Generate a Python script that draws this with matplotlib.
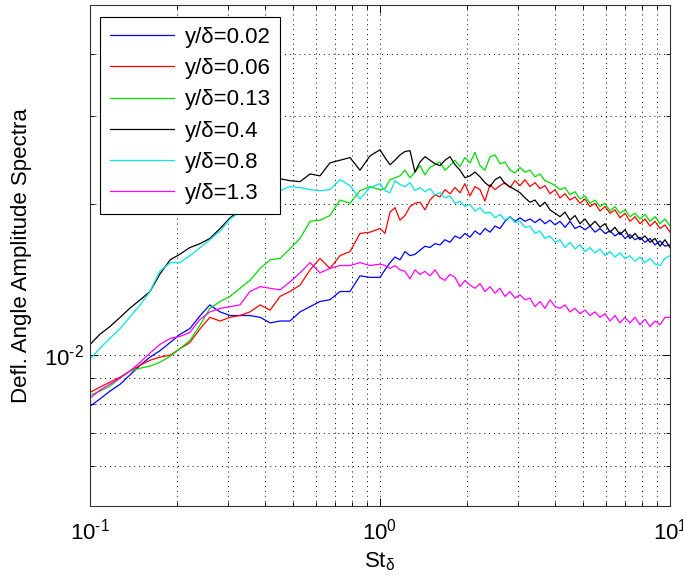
import numpy as np
import matplotlib
matplotlib.use('Agg')
import matplotlib.pyplot as plt
from matplotlib.ticker import LogLocator, NullFormatter, FuncFormatter

plt.rcParams.update({
    'font.family': ['Liberation Sans', 'DejaVu Sans'],
    'font.size': 16,
    'axes.unicode_minus': False,
    'mathtext.fontset': 'custom',
    'mathtext.rm': 'Liberation Sans',
    'mathtext.it': 'Liberation Sans:italic',
    'mathtext.bf': 'Liberation Sans:bold',
    'mathtext.default': 'regular',
})

# ── Strouhal number grid ─────────────────────────────────────────────────────
st = [0.100, 0.108, 0.117, 0.127, 0.137, 0.149, 0.161, 0.174, 0.189, 0.204,
      0.221, 0.240, 0.259, 0.281, 0.304, 0.329, 0.356, 0.386, 0.418, 0.452,
      0.489, 0.530, 0.574, 0.621, 0.672, 0.728, 0.788, 0.853, 0.924, 1.000,
      1.040, 1.083, 1.126, 1.172, 1.219, 1.269, 1.320, 1.374, 1.429, 1.487,
      1.548, 1.610, 1.675, 1.743, 1.814, 1.887, 1.963, 2.043, 2.126, 2.212,
      2.301, 2.395, 2.492, 2.593, 2.698, 2.807, 2.921, 3.039, 3.162, 3.290,
      3.423, 3.562, 3.706, 3.857, 4.013, 4.175, 4.344, 4.520, 4.703, 4.894,
      5.092, 5.298, 5.513, 5.736, 5.968, 6.210, 6.461, 6.723, 6.995, 7.279,
      7.573, 7.880, 8.199, 8.532, 8.877, 9.237, 9.611, 10.00]

# ── spectra, one per wall distance ───────────────────────────────────────────
amp_002 = [0.00791, 0.00817, 0.00847, 0.00875, 0.00912, 0.00955, 0.00991, 0.0102, 0.0106, 0.0110,
           0.0113, 0.0120, 0.0126, 0.0122, 0.0120, 0.0120, 0.0120, 0.0119, 0.0116, 0.0117,
           0.0117, 0.0122, 0.0125, 0.0128, 0.0129, 0.0134, 0.0134, 0.0144, 0.0143, 0.0143,
           0.0148, 0.0153, 0.0157, 0.0155, 0.0161, 0.0158, 0.0159, 0.0162, 0.0165, 0.0164,
           0.0167, 0.0166, 0.0170, 0.0168, 0.0173, 0.0171, 0.0175, 0.0172, 0.0177, 0.0174,
           0.0179, 0.0176, 0.0181, 0.0179, 0.0185, 0.0189, 0.0185, 0.0188, 0.0185, 0.0187,
           0.0184, 0.0187, 0.0183, 0.0186, 0.0182, 0.0185, 0.0180, 0.0185, 0.0179, 0.0181,
           0.0178, 0.0181, 0.0176, 0.0179, 0.0175, 0.0177, 0.0173, 0.0176, 0.0171, 0.0174,
           0.0170, 0.0172, 0.0168, 0.0171, 0.0166, 0.0169, 0.0165, 0.0166]

amp_006 = [0.00843, 0.00863, 0.00883, 0.00904, 0.00929, 0.00955, 0.00977, 0.00991, 0.0100, 0.0103,
           0.0106, 0.0113, 0.0119, 0.0117, 0.0119, 0.0120, 0.0122, 0.0126, 0.0123, 0.0131,
           0.0134, 0.0138, 0.0148, 0.0156, 0.0149, 0.0158, 0.0161, 0.0175, 0.0176, 0.0179,
           0.0175, 0.0193, 0.0197, 0.0186, 0.0190, 0.0198, 0.0201, 0.0202, 0.0195, 0.0204,
           0.0209, 0.0207, 0.0214, 0.0210, 0.0216, 0.0211, 0.0220, 0.0208, 0.0217, 0.0214,
           0.0203, 0.0219, 0.0214, 0.0218, 0.0221, 0.0216, 0.0223, 0.0218, 0.0224, 0.0217,
           0.0221, 0.0215, 0.0218, 0.0210, 0.0214, 0.0206, 0.0210, 0.0204, 0.0207, 0.0201,
           0.0205, 0.0198, 0.0201, 0.0194, 0.0198, 0.0192, 0.0195, 0.0188, 0.0192, 0.0185,
           0.0189, 0.0183, 0.0187, 0.0181, 0.0185, 0.0179, 0.0182, 0.0176]

amp_013 = [0.00832, 0.00847, 0.00867, 0.00900, 0.00929, 0.00942, 0.00951, 0.00968, 0.00995, 0.0103,
           0.0107, 0.0115, 0.0124, 0.0128, 0.0131, 0.0136, 0.0141, 0.0149, 0.0155, 0.0156,
           0.0163, 0.0171, 0.0185, 0.0186, 0.0190, 0.0204, 0.0201, 0.0213, 0.0217, 0.0214,
           0.0215, 0.0224, 0.0226, 0.0228, 0.0234, 0.0226, 0.0232, 0.0239, 0.0229, 0.0237,
           0.0240, 0.0243, 0.0234, 0.0239, 0.0245, 0.0238, 0.0248, 0.0242, 0.0254, 0.0239,
           0.0234, 0.0249, 0.0251, 0.0241, 0.0243, 0.0234, 0.0231, 0.0237, 0.0232, 0.0234,
           0.0227, 0.0230, 0.0223, 0.0221, 0.0218, 0.0214, 0.0216, 0.0209, 0.0212, 0.0205,
           0.0208, 0.0201, 0.0204, 0.0198, 0.0201, 0.0194, 0.0198, 0.0192, 0.0195, 0.0189,
           0.0192, 0.0187, 0.0191, 0.0185, 0.0189, 0.0183, 0.0187, 0.0181]

amp_04 = [0.0105, 0.0110, 0.0114, 0.0119, 0.0124, 0.0129, 0.0134, 0.0145, 0.0155, 0.0159,
          0.0164, 0.0167, 0.0171, 0.0179, 0.0188, 0.0195, 0.0201, 0.0211, 0.0219, 0.0225,
          0.0223, 0.0222, 0.0230, 0.0228, 0.0242, 0.0245, 0.0248, 0.0234, 0.0250, 0.0257,
          0.0248, 0.0240, 0.0245, 0.0251, 0.0255, 0.0256, 0.0232, 0.0243, 0.0249, 0.0245,
          0.0241, 0.0239, 0.0245, 0.0249, 0.0240, 0.0234, 0.0226, 0.0228, 0.0232, 0.0227,
          0.0221, 0.0217, 0.0224, 0.0227, 0.0220, 0.0217, 0.0214, 0.0211, 0.0206, 0.0202,
          0.0204, 0.0198, 0.0202, 0.0195, 0.0192, 0.0189, 0.0193, 0.0186, 0.0190, 0.0183,
          0.0187, 0.0181, 0.0185, 0.0180, 0.0183, 0.0176, 0.0180, 0.0174, 0.0178, 0.0171,
          0.0175, 0.0170, 0.0173, 0.0168, 0.0171, 0.0165, 0.0170, 0.0164]

amp_08 = [0.00982, 0.0103, 0.0108, 0.0113, 0.0119, 0.0126, 0.0134, 0.0147, 0.0153, 0.0153,
          0.0158, 0.0164, 0.0170, 0.0177, 0.0187, 0.0193, 0.0200, 0.0208, 0.0212, 0.0213,
          0.0217, 0.0216, 0.0214, 0.0213, 0.0214, 0.0224, 0.0218, 0.0205, 0.0216, 0.0220,
          0.0213, 0.0211, 0.0223, 0.0219, 0.0217, 0.0221, 0.0213, 0.0216, 0.0212, 0.0215,
          0.0209, 0.0211, 0.0206, 0.0208, 0.0201, 0.0203, 0.0198, 0.0200, 0.0194, 0.0197,
          0.0192, 0.0193, 0.0188, 0.0191, 0.0186, 0.0189, 0.0184, 0.0185, 0.0180, 0.0181,
          0.0175, 0.0177, 0.0171, 0.0173, 0.0168, 0.0170, 0.0164, 0.0168, 0.0163, 0.0166,
          0.0161, 0.0164, 0.0160, 0.0163, 0.0158, 0.0161, 0.0157, 0.0160, 0.0156, 0.0158,
          0.0154, 0.0157, 0.0153, 0.0156, 0.0152, 0.0151, 0.0156, 0.0158]

amp_13 = [0.00820, 0.00851, 0.00875, 0.00900, 0.00929, 0.00968, 0.0101, 0.0105, 0.0108, 0.0109,
          0.0111, 0.0118, 0.0122, 0.0124, 0.0125, 0.0126, 0.0134, 0.0137, 0.0136, 0.0135,
          0.0140, 0.0146, 0.0153, 0.0146, 0.0149, 0.0151, 0.0151, 0.0153, 0.0151, 0.0152,
          0.0151, 0.0149, 0.0151, 0.0148, 0.0147, 0.0142, 0.0148, 0.0145, 0.0147, 0.0144,
          0.0148, 0.0143, 0.0141, 0.0145, 0.0143, 0.0137, 0.0141, 0.0138, 0.0136, 0.0139,
          0.0134, 0.0137, 0.0133, 0.0136, 0.0131, 0.0134, 0.0130, 0.0132, 0.0129, 0.0130,
          0.0125, 0.0128, 0.0124, 0.0129, 0.0125, 0.0124, 0.0126, 0.0122, 0.0124, 0.0121,
          0.0123, 0.0120, 0.0122, 0.0119, 0.0121, 0.0117, 0.0120, 0.0116, 0.0119, 0.0116,
          0.0119, 0.0115, 0.0118, 0.0114, 0.0117, 0.0115, 0.0119, 0.0119]

labels = ['y/δ=0.02', 'y/δ=0.06', 'y/δ=0.13', 'y/δ=0.4', 'y/δ=0.8', 'y/δ=1.3']
series = [amp_002, amp_006, amp_013, amp_04, amp_08, amp_13]
colors = ['#0000ff', '#ff0000', '#00dd00', '#000000', '#00e5e5', '#ff00ff']


def decade_label(val, pos):
    # MATLAB-style "10^-1" with a short hyphen in the exponent
    e = int(round(np.log10(val)))
    exp = r'\text{-}%d' % -e if e < 0 else '%d' % e
    return r'$\mathregular{10^{%s}}$' % exp


fig = plt.figure(figsize=(6.83, 5.80), dpi=100)
ax = fig.add_axes([90/683, 74/580, 580/683, 501/580])

for amp, lab, col in zip(series, labels, colors):
    ax.loglog(st, amp, color=col, linewidth=0.9, label=lab)

ax.set_xlim(0.1, 10)
ax.set_ylim(5e-3, 5e-2)

ax.xaxis.set_minor_locator(LogLocator(base=10, subs=np.arange(2, 10), numticks=20))
ax.yaxis.set_minor_locator(LogLocator(base=10, subs=np.arange(2, 10), numticks=20))
ax.xaxis.set_major_formatter(FuncFormatter(decade_label))
ax.yaxis.set_major_formatter(FuncFormatter(decade_label))
ax.xaxis.set_minor_formatter(NullFormatter())
ax.yaxis.set_minor_formatter(NullFormatter())

ax.grid(True, which='both', color='k', linestyle=(0, (1, 4)), linewidth=0.7)
ax.tick_params(which='both', direction='in', top=True, right=True, width=0.7)
ax.tick_params(which='major', length=6, labelsize=16)
ax.tick_params(which='minor', length=3)
ax.tick_params(axis='x', which='major', pad=9)
ax.tick_params(axis='y', which='major', pad=4)
for sp in ax.spines.values():
    sp.set_linewidth(0.8)
    sp.set_color('#333333')

ax.set_xlabel(r'St$_{\delta}$', labelpad=4)
ax.set_ylabel('Defl. Angle Amplitude Spectra', labelpad=9)

leg = ax.legend(loc='upper left', bbox_to_anchor=(10/580, 489/501), borderaxespad=0,
                fancybox=False, framealpha=1, edgecolor='k', fontsize=16,
                handlelength=2.9, handletextpad=0.45, labelspacing=0.46,
                borderpad=0.45)
leg.get_frame().set_linewidth(0.8)

fig.savefig('out.png', dpi=100)
